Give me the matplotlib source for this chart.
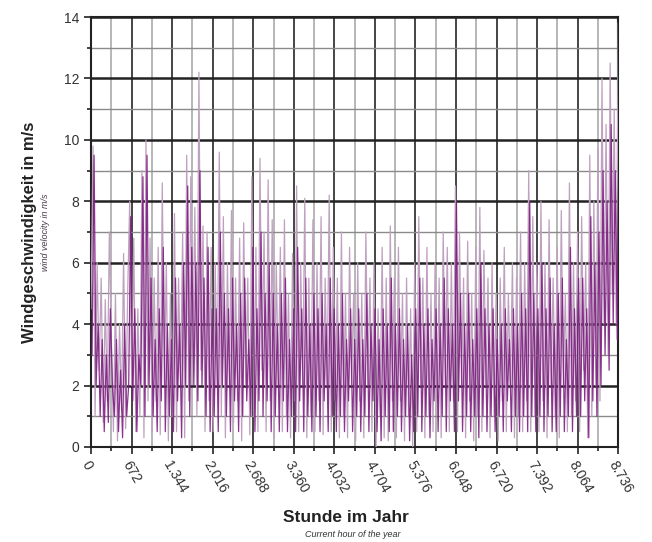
"""
Windgeschwindigkeit ueber die Stunden eines Jahres
"""
import numpy as np
import matplotlib.pyplot as plt
from matplotlib.ticker import MultipleLocator

plt.rcParams['font.family'] = ['Liberation Sans', 'DejaVu Sans']

# Stunden-Ticks (Hauptraster alle 672 h = 4 Wochen)
hour_ticks = list(range(0, 8737, 672))
hour_labels = ["0", "672", "1.344", "2.016", "2.688", "3.360", "4.032",
               "4.704", "5.376", "6.048", "6.720", "7.392", "8.064", "8.736"]

wind_light = [
    4.5, 9.8, 1.0, 6.0, 2.5, 5.5, 0.8, 4.8, 1.5, 7.0,
    3.5, 0.5, 5.0, 0.2, 4.0, 1.2, 6.3, 0.6, 5.0, 8.0,
    2.0, 6.8, 0.5, 4.5, 1.0, 9.0, 0.3, 10.0, 1.5, 6.8,
    0.5, 5.5, 1.5, 6.5, 0.4, 8.6, 2.0, 6.0, 0.2, 5.0,
    1.0, 7.6, 0.5, 5.5, 2.0, 7.0, 0.3, 9.5, 1.5, 8.8,
    3.0, 7.8, 1.0, 12.2, 2.5, 7.2, 0.5, 7.0, 1.5, 6.5,
    0.5, 6.0, 2.0, 9.6, 1.0, 7.5, 0.3, 6.0, 2.0, 7.7,
    0.8, 5.5, 1.5, 6.8, 0.2, 7.3, 2.0, 5.5, 0.4, 8.8,
    1.0, 6.5, 0.5, 9.4, 2.5, 7.0, 0.5, 8.7, 1.5, 7.4,
    0.3, 6.0, 2.0, 6.5, 0.5, 7.4, 1.0, 5.0, 0.3, 6.3,
    1.5, 8.5, 0.5, 6.0, 2.0, 8.1, 0.3, 5.5, 1.0, 7.4,
    0.5, 6.0, 1.5, 7.5, 0.4, 5.5, 2.0, 8.2, 0.5, 6.5,
    1.5, 5.5, 0.3, 7.0, 1.0, 5.0, 0.3, 6.5, 2.0, 5.0,
    0.2, 6.0, 1.5, 5.0, 0.3, 7.0, 2.0, 5.5, 0.5, 6.0,
    0.0, 4.5, 1.0, 6.5, 0.3, 5.5, 0.2, 7.2, 1.5, 5.5,
    0.3, 6.5, 1.5, 5.0, 0.2, 5.5, 1.0, 4.5, 0.0, 6.0,
    0.5, 7.5, 2.0, 5.5, 0.3, 6.5, 1.0, 5.0, 0.5, 6.0,
    1.5, 5.5, 0.3, 7.0, 2.0, 6.5, 0.5, 6.0, 1.5, 8.5,
    0.5, 7.0, 2.0, 5.5, 0.3, 6.7, 1.5, 5.0, 0.2, 6.5,
    1.0, 7.8, 0.5, 6.4, 2.0, 5.5, 0.3, 6.0, 1.0, 5.0,
    0.2, 5.5, 1.5, 6.5, 0.5, 5.0, 2.0, 6.0, 0.3, 5.5,
    1.0, 7.0, 0.5, 6.0, 1.5, 9.0, 0.5, 7.5, 1.0, 6.0,
    0.5, 8.0, 1.5, 6.0, 0.3, 7.4, 2.0, 5.5, 1.0, 6.5,
    0.3, 7.7, 2.0, 5.0, 0.5, 8.6, 1.0, 6.0, 1.5, 7.0,
    0.5, 7.5, 2.5, 6.0, 0.3, 9.5, 1.0, 8.0, 2.0, 9.7,
    1.5, 12.0, 4.0, 10.5, 3.0, 12.5, 5.0, 11.0, 4.0, 13.8,
]

# Windgeschwindigkeit, dunkel (geglaettet)
wind_dark = [
    3.0, 9.5, 2.0, 4.0, 1.0, 3.5, 0.5, 3.0, 0.8, 4.5,
    2.0, 1.0, 3.5, 0.5, 2.5, 0.3, 4.0, 1.0, 2.0, 7.5,
    1.5, 4.5, 0.5, 3.0, 2.0, 8.8, 1.0, 9.5, 2.0, 5.5,
    1.0, 3.5, 0.5, 4.5, 1.5, 6.5, 0.5, 4.0, 1.0, 3.5,
    0.5, 5.5, 1.5, 4.0, 0.3, 6.0, 2.0, 8.5, 1.0, 6.5,
    2.0, 6.0, 1.5, 9.0, 2.0, 5.5, 1.0, 6.5, 0.5, 4.5,
    1.0, 4.5, 0.5, 7.0, 2.0, 5.0, 1.0, 4.5, 0.5, 5.5,
    1.5, 4.0, 0.5, 5.0, 1.0, 5.5, 1.5, 3.5, 1.0, 6.5,
    0.5, 4.5, 1.5, 7.0, 1.0, 5.0, 1.5, 6.0, 0.5, 5.0,
    1.0, 4.0, 0.5, 5.0, 1.5, 5.5, 0.5, 3.5, 1.0, 4.5,
    0.5, 6.5, 1.5, 4.5, 0.5, 5.5, 1.0, 4.0, 0.5, 5.0,
    1.0, 4.5, 0.5, 5.0, 1.5, 4.0, 0.5, 5.5, 1.0, 4.5,
    0.5, 4.0, 1.0, 5.0, 0.5, 3.5, 1.5, 4.5, 0.5, 3.5,
    1.0, 4.5, 0.5, 3.5, 1.0, 5.0, 0.5, 4.0, 1.5, 4.5,
    0.5, 3.5, 0.2, 4.5, 1.0, 4.0, 0.5, 5.5, 0.5, 4.0,
    1.0, 4.5, 0.5, 3.5, 1.0, 4.0, 0.2, 3.0, 0.5, 4.5,
    1.0, 5.5, 0.5, 4.0, 1.0, 4.5, 0.3, 3.5, 1.5, 4.5,
    0.5, 4.0, 1.0, 5.5, 0.5, 4.5, 1.5, 4.0, 0.5, 8.0,
    1.5, 5.0, 0.5, 4.0, 1.0, 5.0, 0.5, 3.5, 1.0, 4.5,
    0.3, 6.0, 1.0, 4.5, 0.5, 4.0, 1.0, 4.5, 0.5, 3.5,
    1.0, 4.0, 0.5, 4.5, 1.5, 3.5, 0.5, 4.5, 1.0, 4.0,
    0.5, 5.0, 1.0, 4.5, 0.5, 8.0, 1.0, 5.0, 0.5, 4.5,
    1.0, 6.0, 0.5, 4.5, 1.0, 5.5, 0.5, 4.0, 0.5, 5.0,
    1.0, 5.5, 0.5, 3.5, 1.0, 6.5, 0.5, 4.5, 1.0, 5.5,
    1.0, 5.5, 1.5, 4.5, 0.3, 7.5, 1.5, 6.0, 1.0, 7.0,
    2.0, 9.0, 3.0, 8.0, 2.5, 10.5, 4.0, 9.0, 3.5, 11.0,
]

if __name__ == "__main__":
    fig = plt.figure(figsize=(6.52, 5.42), dpi=100)
    ax = fig.add_axes([0.1396, 0.1753, 0.8087, 0.7933])

    h_light = np.linspace(0, 8736, len(wind_light))
    h_dark = np.linspace(0, 8736, len(wind_dark)) + 8736 / len(wind_dark) / 2
    ax.plot(h_light, wind_light, color="#bfa0c0", lw=0.9, zorder=3)
    ax.plot(h_dark, wind_dark, color="#7d1f80", lw=0.9, alpha=0.9, zorder=4)

    ax.set_xlim(0, 8736)
    ax.set_ylim(0, 14)
    ax.set_xticks(hour_ticks)
    ax.set_xticklabels(hour_labels, rotation=-60, ha="left", va="top",
                       rotation_mode="anchor", fontsize=10, color="#333333")
    ax.xaxis.set_minor_locator(MultipleLocator(336))
    ax.yaxis.set_major_locator(MultipleLocator(2))
    ax.yaxis.set_minor_locator(MultipleLocator(1))
    ax.tick_params(axis="y", labelsize=10, labelcolor="#333333")

    # Raster
    ax.grid(which="major", axis="y", color="#222222", lw=1.8, zorder=1)
    ax.grid(which="minor", axis="y", color="#8a8a8a", lw=1.0, zorder=1)
    ax.grid(which="major", axis="x", color="#444444", lw=1.4, zorder=1)
    ax.grid(which="minor", axis="x", color="#aaaaaa", lw=1.2, zorder=1)
    ax.tick_params(which="both", direction="out", color="#222222", width=1.2)
    ax.tick_params(which="major", length=5)
    ax.tick_params(which="minor", length=3)
    for s in ax.spines.values():
        s.set_color("#222222")
        s.set_linewidth(1.5)

    fig.text(0.046, 0.572, "Windgeschwindigkeit in m/s", rotation=90,
             ha="center", va="center", fontsize=12, fontweight="bold",
             color="#222222")
    fig.text(0.07, 0.572, "wind velocity in m/s", rotation=90,
             ha="center", va="center", fontsize=6.5, style="italic",
             color="#4a3a4a")
    fig.text(0.53, 0.046, "Stunde im Jahr", ha="center", va="center",
             fontsize=12.5, fontweight="bold", color="#222222")
    fig.text(0.541, 0.013, "Current hour of the year", ha="center",
             va="center", fontsize=6.5, style="italic", color="#333333")

    fig.savefig("out.png", dpi=100)
